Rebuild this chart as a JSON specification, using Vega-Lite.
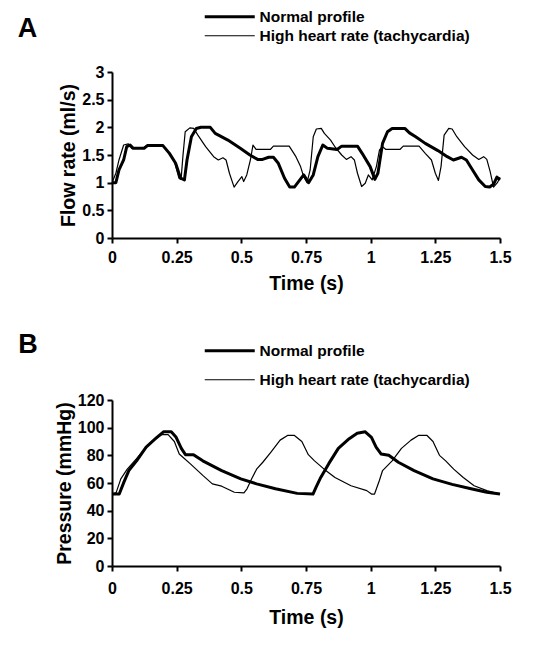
{
  "$schema": "https://vega.github.io/schema/vega-lite/v6.json",
  "padding": {"left": 17, "top": 9, "right": 5, "bottom": 5},
  "spacing": 38,
  "resolve": {"scale": {"strokeWidth": "independent"}, "legend": {"strokeWidth": "independent"}},
  "config": {
    "view": {"stroke": null},
    "font": "Liberation Sans",
    "axis": {
      "grid": false,
      "domainColor": "black",
      "domainWidth": 2,
      "tickColor": "black",
      "tickWidth": 2,
      "tickSize": 5,
      "labelFont": "Liberation Sans",
      "labelFontWeight": "bold",
      "labelFontSize": 16,
      "labelColor": "black",
      "titleFont": "Liberation Sans",
      "titleFontWeight": "bold",
      "titleFontSize": 19.5,
      "titleColor": "black"
    },
    "axisX": {"labelPadding": 6, "titlePadding": 9, "labelFlush": false},
    "axisY": {"labelPadding": 3, "titlePadding": 3},
    "legend": {
      "orient": "none",
      "symbolType": "M-5,0H5",
      "symbolStrokeColor": "black",
      "symbolSize": 100,
      "labelOffset": 22,
      "labelLimit": 400,
      "labelFont": "Liberation Sans",
      "labelFontWeight": "bold",
      "labelFontSize": 15.5,
      "labelColor": "black",
      "title": null
    },
    "title": {"font": "Liberation Sans", "fontWeight": "bold", "fontSize": 27, "color": "black", "anchor": "start", "frame": "bounds"}
  },
  "datasets": {
    "flow": [
      {"t":0,"v":1.0,"s":"N"},{"t":0.015,"v":1.0,"s":"N"},{"t":0.027,"v":1.23,"s":"N"},{"t":0.045,"v":1.41,"s":"N"},{"t":0.057,"v":1.65,"s":"N"},{"t":0.07,"v":1.68,"s":"N"},{"t":0.082,"v":1.62,"s":"N"},{"t":0.124,"v":1.62,"s":"N"},{"t":0.137,"v":1.67,"s":"N"},{"t":0.197,"v":1.67,"s":"N"},{"t":0.222,"v":1.53,"s":"N"},{"t":0.246,"v":1.35,"s":"N"},{"t":0.265,"v":1.08,"s":"N"},{"t":0.28,"v":1.05,"s":"N"},{"t":0.29,"v":1.41,"s":"N"},{"t":0.307,"v":1.83,"s":"N"},{"t":0.326,"v":1.98,"s":"N"},{"t":0.344,"v":2.0,"s":"N"},{"t":0.38,"v":2.0,"s":"N"},{"t":0.399,"v":1.89,"s":"N"},{"t":0.448,"v":1.77,"s":"N"},{"t":0.496,"v":1.62,"s":"N"},{"t":0.533,"v":1.5,"s":"N"},{"t":0.563,"v":1.42,"s":"N"},{"t":0.582,"v":1.42,"s":"N"},{"t":0.606,"v":1.46,"s":"N"},{"t":0.624,"v":1.46,"s":"N"},{"t":0.643,"v":1.35,"s":"N"},{"t":0.667,"v":1.08,"s":"N"},{"t":0.687,"v":0.92,"s":"N"},{"t":0.705,"v":0.92,"s":"N"},{"t":0.741,"v":1.14,"s":"N"},{"t":0.76,"v":1.0,"s":"N"},{"t":0.778,"v":1.14,"s":"N"},{"t":0.796,"v":1.47,"s":"N"},{"t":0.815,"v":1.68,"s":"N"},{"t":0.833,"v":1.62,"s":"N"},{"t":0.87,"v":1.6,"s":"N"},{"t":0.888,"v":1.66,"s":"N"},{"t":0.949,"v":1.66,"s":"N"},{"t":0.967,"v":1.53,"s":"N"},{"t":0.998,"v":1.29,"s":"N"},{"t":1.016,"v":1.06,"s":"N"},{"t":1.028,"v":1.17,"s":"N"},{"t":1.046,"v":1.71,"s":"N"},{"t":1.065,"v":1.92,"s":"N"},{"t":1.083,"v":1.98,"s":"N"},{"t":1.132,"v":1.98,"s":"N"},{"t":1.15,"v":1.9,"s":"N"},{"t":1.174,"v":1.83,"s":"N"},{"t":1.211,"v":1.71,"s":"N"},{"t":1.26,"v":1.58,"s":"N"},{"t":1.296,"v":1.47,"s":"N"},{"t":1.32,"v":1.41,"s":"N"},{"t":1.351,"v":1.46,"s":"N"},{"t":1.37,"v":1.41,"s":"N"},{"t":1.394,"v":1.23,"s":"N"},{"t":1.418,"v":1.05,"s":"N"},{"t":1.443,"v":0.93,"s":"N"},{"t":1.46,"v":0.92,"s":"N"},{"t":1.475,"v":0.97,"s":"N"},{"t":1.488,"v":1.1,"s":"N"},{"t":1.5,"v":1.05,"s":"N"},
      {"t":0,"v":1.0,"s":"H"},{"t":0.015,"v":1.17,"s":"H"},{"t":0.027,"v":1.41,"s":"H"},{"t":0.045,"v":1.68,"s":"H"},{"t":0.063,"v":1.7,"s":"H"},{"t":0.076,"v":1.62,"s":"H"},{"t":0.118,"v":1.62,"s":"H"},{"t":0.137,"v":1.68,"s":"H"},{"t":0.192,"v":1.68,"s":"H"},{"t":0.216,"v":1.56,"s":"H"},{"t":0.24,"v":1.41,"s":"H"},{"t":0.259,"v":1.08,"s":"H"},{"t":0.267,"v":1.06,"s":"H"},{"t":0.274,"v":1.47,"s":"H"},{"t":0.283,"v":1.92,"s":"H"},{"t":0.301,"v":1.99,"s":"H"},{"t":0.316,"v":1.98,"s":"H"},{"t":0.332,"v":1.86,"s":"H"},{"t":0.362,"v":1.65,"s":"H"},{"t":0.393,"v":1.47,"s":"H"},{"t":0.411,"v":1.41,"s":"H"},{"t":0.429,"v":1.45,"s":"H"},{"t":0.441,"v":1.41,"s":"H"},{"t":0.454,"v":1.17,"s":"H"},{"t":0.472,"v":0.92,"s":"H"},{"t":0.487,"v":1.02,"s":"H"},{"t":0.502,"v":1.11,"s":"H"},{"t":0.509,"v":1.02,"s":"H"},{"t":0.521,"v":1.14,"s":"H"},{"t":0.535,"v":1.41,"s":"H"},{"t":0.545,"v":1.68,"s":"H"},{"t":0.557,"v":1.6,"s":"H"},{"t":0.612,"v":1.6,"s":"H"},{"t":0.624,"v":1.66,"s":"H"},{"t":0.685,"v":1.66,"s":"H"},{"t":0.711,"v":1.47,"s":"H"},{"t":0.729,"v":1.29,"s":"H"},{"t":0.741,"v":1.11,"s":"H"},{"t":0.754,"v":1.0,"s":"H"},{"t":0.766,"v":1.23,"s":"H"},{"t":0.778,"v":1.83,"s":"H"},{"t":0.79,"v":1.97,"s":"H"},{"t":0.809,"v":1.98,"s":"H"},{"t":0.821,"v":1.89,"s":"H"},{"t":0.845,"v":1.77,"s":"H"},{"t":0.863,"v":1.64,"s":"H"},{"t":0.888,"v":1.5,"s":"H"},{"t":0.906,"v":1.42,"s":"H"},{"t":0.924,"v":1.47,"s":"H"},{"t":0.937,"v":1.41,"s":"H"},{"t":0.949,"v":1.17,"s":"H"},{"t":0.965,"v":0.93,"s":"H"},{"t":0.979,"v":0.99,"s":"H"},{"t":0.991,"v":1.14,"s":"H"},{"t":1.006,"v":1.05,"s":"H"},{"t":1.022,"v":1.29,"s":"H"},{"t":1.034,"v":1.59,"s":"H"},{"t":1.046,"v":1.65,"s":"H"},{"t":1.059,"v":1.6,"s":"H"},{"t":1.113,"v":1.6,"s":"H"},{"t":1.126,"v":1.66,"s":"H"},{"t":1.187,"v":1.66,"s":"H"},{"t":1.211,"v":1.53,"s":"H"},{"t":1.235,"v":1.41,"s":"H"},{"t":1.25,"v":1.17,"s":"H"},{"t":1.262,"v":1.04,"s":"H"},{"t":1.272,"v":1.29,"s":"H"},{"t":1.284,"v":1.86,"s":"H"},{"t":1.302,"v":1.98,"s":"H"},{"t":1.315,"v":1.97,"s":"H"},{"t":1.333,"v":1.83,"s":"H"},{"t":1.363,"v":1.65,"s":"H"},{"t":1.394,"v":1.5,"s":"H"},{"t":1.418,"v":1.42,"s":"H"},{"t":1.437,"v":1.47,"s":"H"},{"t":1.449,"v":1.42,"s":"H"},{"t":1.462,"v":1.2,"s":"H"},{"t":1.475,"v":0.92,"s":"H"},{"t":1.49,"v":1.0,"s":"H"},{"t":1.5,"v":1.1,"s":"H"}
    ],
    "pressure": [
      {"t":0,"v":52,"s":"N"},{"t":0.028,"v":52,"s":"N"},{"t":0.046,"v":60.6,"s":"N"},{"t":0.065,"v":69,"s":"N"},{"t":0.095,"v":76,"s":"N"},{"t":0.132,"v":86,"s":"N"},{"t":0.168,"v":92,"s":"N"},{"t":0.199,"v":97,"s":"N"},{"t":0.229,"v":97,"s":"N"},{"t":0.248,"v":93,"s":"N"},{"t":0.268,"v":85,"s":"N"},{"t":0.284,"v":80.5,"s":"N"},{"t":0.315,"v":80.5,"s":"N"},{"t":0.351,"v":76,"s":"N"},{"t":0.424,"v":69,"s":"N"},{"t":0.498,"v":63,"s":"N"},{"t":0.559,"v":59.4,"s":"N"},{"t":0.632,"v":55.8,"s":"N"},{"t":0.716,"v":52.5,"s":"N"},{"t":0.777,"v":52,"s":"N"},{"t":0.789,"v":57,"s":"N"},{"t":0.807,"v":64,"s":"N"},{"t":0.838,"v":74,"s":"N"},{"t":0.875,"v":85,"s":"N"},{"t":0.917,"v":92,"s":"N"},{"t":0.948,"v":96,"s":"N"},{"t":0.979,"v":97,"s":"N"},{"t":1.003,"v":93,"s":"N"},{"t":1.021,"v":86,"s":"N"},{"t":1.04,"v":81,"s":"N"},{"t":1.07,"v":80,"s":"N"},{"t":1.107,"v":75,"s":"N"},{"t":1.168,"v":69,"s":"N"},{"t":1.241,"v":63,"s":"N"},{"t":1.315,"v":59,"s":"N"},{"t":1.388,"v":55.8,"s":"N"},{"t":1.449,"v":53.3,"s":"N"},{"t":1.5,"v":52,"s":"N"},
      {"t":0,"v":52,"s":"H"},{"t":0.016,"v":53,"s":"H"},{"t":0.034,"v":63,"s":"H"},{"t":0.059,"v":70,"s":"H"},{"t":0.095,"v":77.6,"s":"H"},{"t":0.132,"v":86,"s":"H"},{"t":0.162,"v":91,"s":"H"},{"t":0.193,"v":95,"s":"H"},{"t":0.217,"v":95,"s":"H"},{"t":0.241,"v":90,"s":"H"},{"t":0.26,"v":81,"s":"H"},{"t":0.272,"v":79,"s":"H"},{"t":0.302,"v":74,"s":"H"},{"t":0.351,"v":65.5,"s":"H"},{"t":0.388,"v":59.4,"s":"H"},{"t":0.424,"v":57.7,"s":"H"},{"t":0.473,"v":53.3,"s":"H"},{"t":0.51,"v":52.8,"s":"H"},{"t":0.522,"v":55.8,"s":"H"},{"t":0.54,"v":63,"s":"H"},{"t":0.559,"v":70,"s":"H"},{"t":0.583,"v":75,"s":"H"},{"t":0.613,"v":82,"s":"H"},{"t":0.65,"v":91,"s":"H"},{"t":0.68,"v":94.5,"s":"H"},{"t":0.704,"v":94.5,"s":"H"},{"t":0.734,"v":90,"s":"H"},{"t":0.759,"v":80.5,"s":"H"},{"t":0.783,"v":76,"s":"H"},{"t":0.82,"v":70,"s":"H"},{"t":0.862,"v":64,"s":"H"},{"t":0.924,"v":58,"s":"H"},{"t":0.985,"v":54.5,"s":"H"},{"t":1.003,"v":52,"s":"H"},{"t":1.015,"v":52,"s":"H"},{"t":1.034,"v":62,"s":"H"},{"t":1.046,"v":69,"s":"H"},{"t":1.083,"v":76,"s":"H"},{"t":1.119,"v":85,"s":"H"},{"t":1.156,"v":91,"s":"H"},{"t":1.186,"v":94.5,"s":"H"},{"t":1.217,"v":94.5,"s":"H"},{"t":1.241,"v":90,"s":"H"},{"t":1.266,"v":80,"s":"H"},{"t":1.29,"v":76,"s":"H"},{"t":1.321,"v":70,"s":"H"},{"t":1.358,"v":64,"s":"H"},{"t":1.4,"v":58,"s":"H"},{"t":1.449,"v":54.5,"s":"H"},{"t":1.5,"v":52,"s":"H"}
    ]
  },
  "vconcat": [
    {
      "title": {"text": "A", "dx": -41, "offset": -34},
      "width": 388,
      "height": 166,
      "data": {"name": "flow"},
      "mark": {"type": "line", "color": "black", "strokeJoin": "round"},
      "encoding": {
        "x": {"field": "t", "type": "quantitative", "scale": {"domain": [0, 1.5], "nice": false}, "axis": {"values": [0, 0.25, 0.5, 0.75, 1, 1.25, 1.5], "labelExpr": "'' + datum.value", "title": "Time (s)"}},
        "y": {"field": "v", "type": "quantitative", "scale": {"domain": [0, 3], "nice": false}, "axis": {"values": [0, 0.5, 1, 1.5, 2, 2.5, 3], "labelExpr": "'' + datum.value", "title": "Flow rate (ml/s)"}},
        "strokeWidth": {"field": "s", "type": "nominal", "scale": {"domain": ["N", "H"], "range": [3, 1.2]},
          "legend": {"legendX": 110, "legendY": -63, "rowPadding": 2, "labelExpr": "datum.label == 'N' ? 'Normal profile' : 'High heart rate (tachycardia)'"}}
      }
    },
    {
      "title": {"text": "B", "dx": -36, "offset": -16},
      "width": 388,
      "height": 166,
      "data": {"name": "pressure"},
      "mark": {"type": "line", "color": "black", "strokeJoin": "round"},
      "encoding": {
        "x": {"field": "t", "type": "quantitative", "scale": {"domain": [0, 1.5], "nice": false}, "axis": {"values": [0, 0.25, 0.5, 0.75, 1, 1.25, 1.5], "labelExpr": "'' + datum.value", "title": "Time (s)", "labelPadding": 9, "titlePadding": 12}},
        "y": {"field": "v", "type": "quantitative", "scale": {"domain": [0, 120], "nice": false}, "axis": {"values": [0, 20, 40, 60, 80, 100, 120], "labelExpr": "'' + datum.value", "title": "Pressure (mmHg)"}},
        "strokeWidth": {"field": "s", "type": "nominal", "scale": {"domain": ["N", "H"], "range": [3, 1.2]},
          "legend": {"legendX": 110, "legendY": -57, "rowPadding": 12, "labelExpr": "datum.label == 'N' ? 'Normal profile' : 'High heart rate (tachycardia)'"}}
      }
    }
  ]
}
